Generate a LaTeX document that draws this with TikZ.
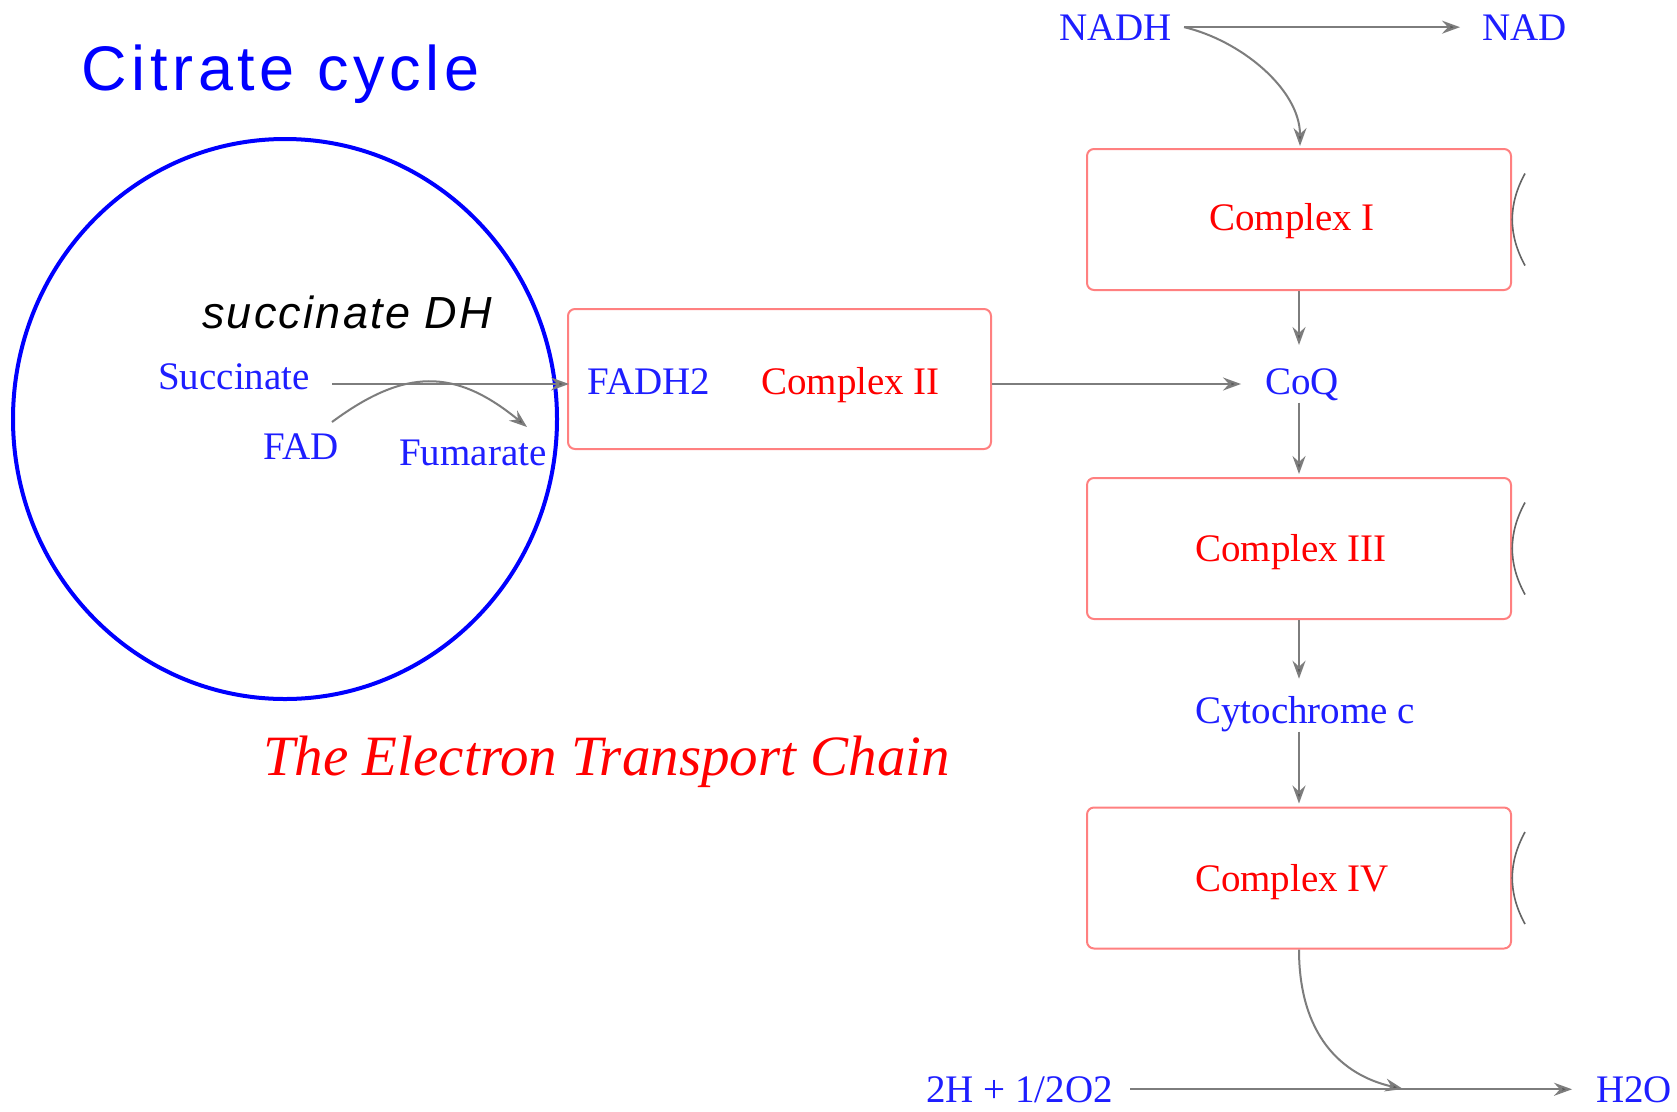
\documentclass[tikz,border=0pt]{standalone}
\usepackage{fontspec}
\setmainfont{Liberation Serif}
\newfontfamily\sansf{Liberation Sans}
\newfontfamily\sanstitle[LetterSpace=7.5]{Liberation Sans}
\newfontfamily\sanssub[LetterSpace=5]{Liberation Sans}
\usetikzlibrary{arrows.meta}
\definecolor{lblue}{RGB}{30,30,255}
\definecolor{tred}{RGB}{255,0,0}
\definecolor{boxred}{RGB}{255,128,128}
\definecolor{arrgray}{RGB}{125,125,125}
\tikzset{
  lbl/.style={inner sep=0pt, anchor=base west, text=lblue, font=\fontsize{39}{44}\selectfont},
  rlbl/.style={inner sep=0pt, anchor=base west, text=tred, font=\fontsize{39}{44}\selectfont},
  cbox/.style={draw=boxred, line width=2pt, rounded corners=7pt, minimum width=424pt, minimum height=141pt, inner sep=0pt},
  arr/.style={draw=arrgray, line width=2pt, -{Stealth[length=18pt, width=13pt, inset=6pt, fill=arrgray!70!black]}},
  brk/.style={draw=arrgray!80!black, line width=1.6pt}
}
\begin{document}
\begin{tikzpicture}[x=1pt, y=-1pt]
\useasboundingbox (0,0) rectangle (1677,1111);
\fill[white] (0,0) rectangle (1677,1111);

% citrate cycle
\node[inner sep=0pt, anchor=base west, text=blue, font=\sanstitle\fontsize{63}{70}\selectfont] (title) at (81,90) {Citrate cycle};
\draw[blue, line width=4pt] (285,419) ellipse [x radius=272, y radius=280];
\node[inner sep=0pt, anchor=base west, font=\sanssub\itshape\fontsize{45}{50}\selectfont] (sdh) at (202,328) {succinate DH};

\node[lbl] (succ) at (158,389) {Succinate};
\node[lbl] (fad) at (263,459) {FAD};
\node[lbl] (fum) at (399,465) {Fumarate};

% complexes
\node[cbox, minimum width=423pt, minimum height=140pt] (c2) at (779.5,379) {};
\node[lbl] (fadh) at (587,394) {FADH2};
\node[rlbl] (c2t) at (761,394) {Complex II};

\node[cbox] (c1) at (1299,219.5) {};
\node[cbox] (c3) at (1299,548.5) {};
\node[cbox] (c4) at (1299,878) {};
\node[rlbl, anchor=base] (c1t) at (1292,230) {Complex I};
\node[rlbl, anchor=base] (c3t) at (1291,561) {Complex III};
\node[rlbl, anchor=base] (c4t) at (1292,891) {Complex IV};

\node[lbl] (nadh) at (1059,40) {NADH};
\node[lbl] (nad) at (1482,40) {NAD};
\node[lbl] (coq) at (1265,394) {CoQ};
\node[lbl] (cyt) at (1195,723) {Cytochrome c};
\node[lbl] (o2) at (926,1102) {2H + 1/2O2};
\node[lbl] (h2o) at (1596,1102) {H2O};

\node[inner sep=0pt, anchor=base west, text=tred, font=\itshape\fontsize{57}{62}\selectfont] (etc) at (263,775) {The Electron Transport Chain};

% connectors
\coordinate (sA) at (332,384);
\coordinate (fadS) at (332,422);
\coordinate (fumE) at (527,427);
\coordinate (mid) at (1403,1089);

\draw[arr] (sA) -- ([xshift=2pt]sA -| c2.west);
\draw[arr] (fadS) .. controls (405,368) and (455,368) .. (fumE);
\draw[arr] (c2.east |- sA) -- ([xshift=-24pt]coq.west |- sA);

\draw[arr, shorten <=12pt, shorten >=22pt] (nadh.east) -- (nad.west);
\draw[arr] ([xshift=12pt]nadh.east) .. controls +(56,13) and +(0,-57) .. ([xshift=1pt, yshift=2pt]c1.north);
\draw[arr, shorten >=23pt] (c1.south) -- (c1.south |- coq.north);
\draw[arr, shorten <=2pt, shorten >=3pt] (c3.north |- coq.south) -- (c3.north);
\draw[arr, shorten >=17pt] (c3.south) -- (c3.south |- cyt.north);
\draw[arr, shorten >=3pt] (c4.north |- cyt.south) -- (c4.north);
\draw[arr] (c4.south) .. controls +(0,85) and +(-62,-14) .. (mid);
\draw[arr, shorten <=17pt, shorten >=24pt] (o2.east) -- (h2o.west);

% brackets at the right of the complexes
\foreach \c in {c1,c3,c4}{
  \draw[brk] ([shift={(13,-46)}]\c.east) .. controls ([shift={(-4,-15)}]\c.east) and ([shift={(-4,15)}]\c.east) .. ([shift={(13,46)}]\c.east);
}
\end{tikzpicture}
\end{document}
